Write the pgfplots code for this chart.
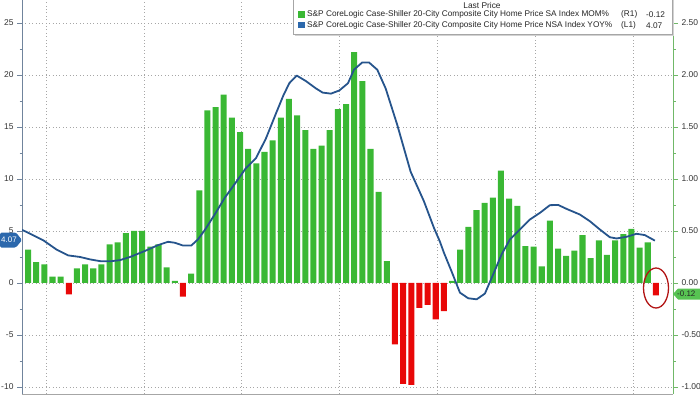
\documentclass[border=0pt]{standalone}
\usepackage{pgfplots}
\pgfplotsset{compat=1.18}
\usepackage{fontspec}
\setmainfont{Liberation Sans}
\definecolor{bargreen}{RGB}{58,184,52}
\definecolor{barred}{RGB}{232,8,8}
\definecolor{lineblue}{RGB}{38,84,140}
\definecolor{tagblue}{RGB}{44,104,172}
\definecolor{axgreen}{RGB}{112,184,104}
\definecolor{axblue}{RGB}{112,132,156}
\definecolor{ellred}{RGB}{178,20,20}
\begin{document}
\begin{tikzpicture}[x=1bp,y=1bp]
\useasboundingbox (0,0) rectangle (700,394);
% ---------- bars (MOM%, right axis) ----------
\begin{axis}[at={(22bp,0bp)}, anchor=south west, scale only axis,
  width=651bp, height=394bp,
  xmin=-0.74, xmax=79.1, ymin=-1.067, ymax=2.72,
  axis y line*=right, axis x line*=bottom,
  x axis line style={gray!70}, y axis line style={axgreen, line width=0.8bp},
  xtick={2.2,14.2,26.2,38.2,50.2,62.2,74.2}, xticklabels={},
  xtick style={draw=none},
  ytick={-1,-0.5,0,0.5,1,1.5,2,2.5},
  minor y tick num=1,
  tick align=outside, major tick length=5bp, minor tick length=2.5bp,
  ytick style={axgreen},
  ymajorgrids, xmajorgrids,
  grid style={dash pattern=on 0.8bp off 2.6bp, gray!70, line width=0.6bp},
  /pgf/number format/assume math mode=true,
  yticklabel style={font=\fontsize{8.5}{10}\selectfont, text=black!80,
    /pgf/number format/.cd, fixed, fixed zerofill, precision=2},
]
\addplot[ybar, bar width=0.74, bar shift=0pt, fill=bargreen, draw=none] coordinates {
(-1,0.32)(0,0.32)(1,0.20)(2,0.18)(3,0.06)(4,0.06)(6,0.14)(7,0.18)(8,0.14)(9,0.18)
(10,0.37)(11,0.39)(12,0.48)(13,0.50)(14,0.50)(15,0.35)(16,0.37)(17,0.15)(18,0.02)
(20,0.09)(21,0.89)(22,1.66)(23,1.69)(24,1.81)(25,1.59)(26,1.45)(27,1.29)(28,1.15)
(29,1.26)(30,1.37)(31,1.59)(32,1.77)(33,1.61)(34,1.47)(35,1.29)(36,1.32)(37,1.47)
(38,1.67)(39,1.72)(40,2.22)(41,1.94)(42,1.29)(43,0.875)(44,0.21)
(52,0.02)(53,0.32)(54,0.54)(55,0.70)(56,0.77)(57,0.82)(58,1.08)(59,0.81)(60,0.74)
(61,0.355)(62,0.35)(63,0.16)(64,0.60)(65,0.33)(66,0.26)(67,0.31)(68,0.46)(69,0.24)
(70,0.41)(71,0.27)(72,0.41)(73,0.47)(74,0.52)(75,0.34)(76,0.39)
};
\addplot[ybar, bar width=0.74, bar shift=0pt, fill=barred, draw=none] coordinates {
(5,-0.11)(19,-0.13)(45,-0.59)(46,-0.97)(47,-0.98)(48,-0.24)(49,-0.21)(50,-0.35)(51,-0.27)(77,-0.12)
};
\end{axis}
% ---------- line (YOY%, left axis) ----------
\begin{axis}[at={(22bp,0bp)}, anchor=south west, scale only axis,
  width=651bp, height=394bp,
  xmin=-0.74, xmax=79.1, ymin=-10.67, ymax=27.2,
  axis y line*=left, axis x line=none,
  y axis line style={axblue, line width=0.8bp},
  ytick={-10,-5,0,5,10,15,20,25},
  minor y tick num=1,
  tick align=outside, major tick length=5bp, minor tick length=2.5bp,
  ytick style={axblue},
  /pgf/number format/assume math mode=true,
  yticklabel style={font=\fontsize{8.5}{10}\selectfont, text=black!80},
]
\addplot[lineblue, line width=1.8bp, line join=round] coordinates {
(-0.74,5.1)(-0.16,4.9)(1.88,4.1)(3.52,3.2)(4.94,2.65)(6.38,2.5)(7.60,2.27)(8.83,2.1)
(10.05,2.08)(11.28,2.2)(12.51,2.5)(14.31,3.07)(15.94,3.64)(17.17,3.96)(17.99,3.87)
(19.00,3.6)(20.02,3.6)(20.84,4.19)(21.67,5.08)(22.89,6.58)(24.12,8.18)(25.50,9.68)
(26.73,11.05)(27.96,12.0)(29.18,13.9)(30.41,16.3)(31.3,18.0)(32.04,19.2)(32.95,19.94)
(34.09,19.4)(35.31,18.7)(36.13,18.3)(37.15,18.2)(38.17,18.5)(39.24,19.2)(39.97,20.5)
(40.99,21.2)(41.81,21.2)(42.83,20.5)(43.86,18.7)(45.28,15.2)(46.92,10.7)(48.55,7.86)
(49.78,5.3)(50.5,4.0)(51.01,2.9)(52.0,1.0)(52.97,-0.93)(53.99,-1.47)(55.02,-1.57)
(56.03,-1.02)(57.05,0.83)(58.08,2.75)(59.10,4.19)(60.33,5.14)(61.55,6.1)(62.78,6.74)
(64.00,7.48)(65.02,7.5)(66.05,7.12)(67.68,6.58)(68.90,5.94)(70.13,5.14)(71.35,4.4)
(72.18,4.28)(73.41,4.44)(74.63,4.73)(75.65,4.6)(76.88,4.07)
};
\end{axis}
% ---------- legend ----------
\fill[gray!35] (295,358.5) rectangle (674,396);
\draw[gray!70, fill=white, line width=0.6bp] (293,360) rectangle (672,396);
\node[font=\fontsize{8.4}{10}\selectfont, text=black!85] at (482,388.5) {Last Price};
\fill[bargreen] (298,376) rectangle (304.5,382.5);
\fill[tagblue] (298,365.5) rectangle (304.5,372);
\node[anchor=west, inner sep=0pt, font=\fontsize{8.3}{10}\selectfont, text=black!85] at (307,379.2)
  {S\&P CoreLogic Case-Shiller 20-City Composite City Home Price SA Index MOM\%};
\node[anchor=west, inner sep=0pt, font=\fontsize{8.3}{10}\selectfont, text=black!85] at (307,368.7)
  {S\&P CoreLogic Case-Shiller 20-City Composite City Home Price NSA Index YOY\%};
\node[anchor=west, inner sep=0pt, font=\fontsize{8.3}{10}\selectfont, text=black!85] at (621,379.2) {(R1)};
\node[anchor=west, inner sep=0pt, font=\fontsize{8.3}{10}\selectfont, text=black!85] at (621,368.7) {(L1)};
\node[anchor=west, inner sep=0pt, font=\fontsize{8.3}{10}\selectfont, text=black!85] at (646,379.2) {-0.12};
\node[anchor=west, inner sep=0pt, font=\fontsize{8.3}{10}\selectfont, text=black!85] at (646,368.7) {4.07};
% ---------- value tags ----------
\fill[tagblue, rounded corners=1.5bp] (0,146.5) -- (16,146.5) -- (22,154) -- (16,161.5) -- (0,161.5) -- cycle;
\node[text=white, font=\fontsize{8}{9}\selectfont] at (9,154) {4.07};
\fill[bargreen!85!white] (673,100) -- (678,94.5) -- (700,94.5) -- (700,105.5) -- (678,105.5) -- cycle;
\node[anchor=west, inner sep=0pt, text=black!85, font=\fontsize{8}{9}\selectfont] at (677,100) {-0.12};
% ---------- highlight ellipse ----------
\draw[ellred, line width=1.3bp] (656,106) ellipse (12.5 and 20);
\end{tikzpicture}
\end{document}
